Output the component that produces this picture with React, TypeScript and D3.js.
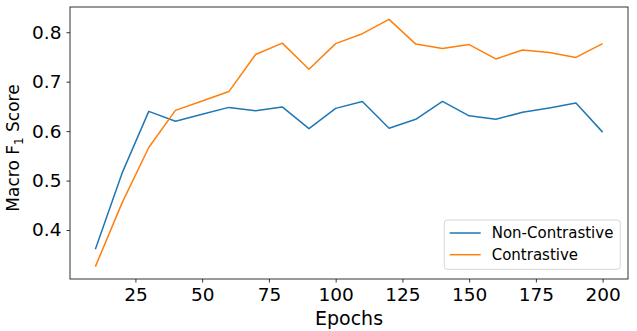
import { useEffect, useRef } from 'react'
import * as d3 from 'd3'

const epochs = [10, 20, 30, 40, 50, 60, 70, 80, 90, 100, 110, 120, 130, 140, 150, 160, 170, 180, 190, 200]
const nonContrastive = [0.361, 0.515, 0.640, 0.620, 0.634, 0.648, 0.641, 0.649, 0.605, 0.646, 0.660, 0.606, 0.624, 0.660, 0.631, 0.624, 0.638, 0.647, 0.657, 0.598]
const contrastive = [0.326, 0.455, 0.567, 0.642, 0.661, 0.680, 0.755, 0.778, 0.725, 0.777, 0.797, 0.826, 0.776, 0.767, 0.775, 0.746, 0.764, 0.759, 0.749, 0.777]
const xTicks = [25, 50, 75, 100, 125, 150, 175, 200]
const yTicks = [0.4, 0.5, 0.6, 0.7, 0.8]
const seriesNames = ['Non-Contrastive', 'Contrastive']
const colors = ['#1f77b4', '#ff7f0e']

export default function App() {
  const ref = useRef<SVGSVGElement>(null)

  useEffect(() => {
    const W = 637
    const H = 331
    const margin = { top: 7, right: 9, bottom: 52, left: 70 }
    const width = W - margin.left - margin.right
    const height = H - margin.top - margin.bottom
    const font = 'DejaVu Sans, sans-serif'

    const root = d3.select(ref.current)
    root.selectAll('*').remove()
    const svg = root.append('g').attr('transform', `translate(${margin.left},${margin.top})`)

    const x = d3.scaleLinear().domain([0.5, 209.5]).range([0, width])
    const y = d3.scaleLinear().domain([0.301, 0.851]).range([height, 0])

    // x axis
    const xa = svg.append('g')
      .attr('transform', `translate(0,${height})`)
      .call(d3.axisBottom(x).tickValues(xTicks).tickSize(3.5).tickPadding(5).tickFormat(d3.format('d')))
    xa.select('.domain').remove()
    xa.selectAll('line').attr('stroke', '#000').attr('stroke-width', 0.8)
    xa.selectAll('text').style('font-family', font).style('font-size', '18.5px').attr('fill', '#000')

    // y axis
    const ya = svg.append('g')
      .call(d3.axisLeft(y).tickValues(yTicks).tickSize(3.5).tickPadding(5).tickFormat(d3.format('.1f')))
    ya.select('.domain').remove()
    ya.selectAll('line').attr('stroke', '#000').attr('stroke-width', 0.8)
    ya.selectAll('text').style('font-family', font).style('font-size', '18.5px').attr('fill', '#000')

    // lines
    const series = [nonContrastive, contrastive]
    const line = d3.line<number>().x((_, i) => x(epochs[i])).y(d => y(d))
    series.forEach((s, k) => {
      svg.append('path')
        .datum(s)
        .attr('d', line)
        .attr('fill', 'none')
        .attr('stroke', colors[k])
        .attr('stroke-width', 1.5)
        .attr('stroke-linejoin', 'round')
    })

    // frame
    svg.append('rect')
      .attr('width', width).attr('height', height)
      .attr('fill', 'none').attr('stroke', '#000').attr('stroke-width', 0.8)

    // axis labels
    svg.append('text')
      .attr('x', width / 2).attr('y', height + 46)
      .attr('text-anchor', 'middle')
      .style('font-family', font).style('font-size', '19px')
      .text('Epochs')

    const yl = svg.append('text')
      .attr('transform', `translate(${-51},${height / 2 + 5}) rotate(-90)`)
      .attr('text-anchor', 'middle')
      .style('font-family', font).style('font-size', '17px')
    yl.append('tspan').text('Macro F')
    yl.append('tspan').attr('dy', 4).style('font-size', '12px').text('1')
    yl.append('tspan').attr('dy', -4).text(' Score')

    // legend
    const lg = svg.append('g').attr('transform', `translate(${444.3 - margin.left},${220 - margin.top})`)
    lg.append('rect')
      .attr('width', 176).attr('height', 49.3).attr('rx', 3)
      .attr('fill', '#fff').attr('fill-opacity', 0.8)
      .attr('stroke', '#d6d6d6').attr('stroke-width', 1)
    seriesNames.forEach((name, i) => {
      const cy = 13 + i * 21.7
      lg.append('line')
        .attr('x1', 5.4).attr('x2', 36.4).attr('y1', cy).attr('y2', cy)
        .attr('stroke', colors[i]).attr('stroke-width', 1.5)
      lg.append('text')
        .attr('x', 47.4).attr('y', cy).attr('dy', '0.35em')
        .style('font-family', font).style('font-size', '15px')
        .text(name)
    })
  }, [])

  return (
    <svg ref={ref} width={637} height={331} style={{ position: 'absolute', left: 0, top: 0, background: '#fff' }} />
  )
}
